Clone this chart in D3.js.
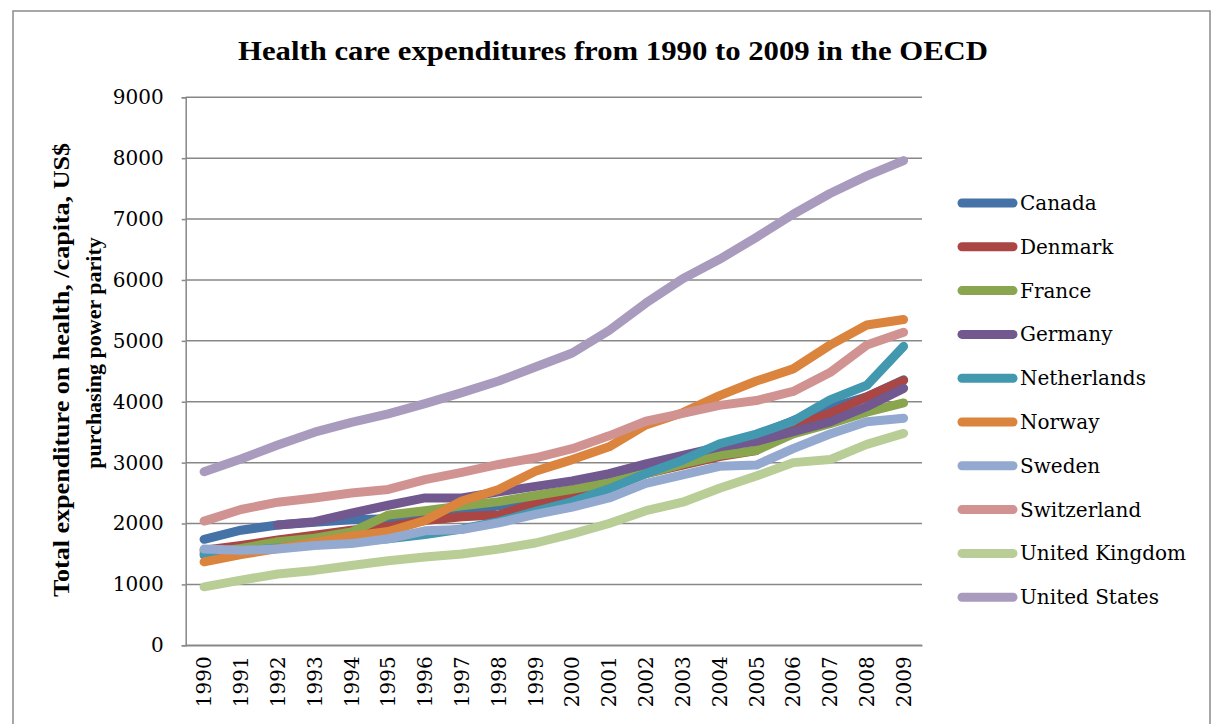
<!DOCTYPE html>
<html>
<head>
<meta charset="utf-8">
<script src="https://cdn.jsdelivr.net/npm/d3@7"></script>
<style>
  html, body { margin: 0; padding: 0; background: #ffffff; }
  svg { display: block; }
</style>
</head>
<body>
<svg id="chart" width="1214" height="724"></svg>
<script>
// Health care expenditure per capita (US$ PPP), OECD, 1990–2009
const years = ["1990","1991","1992","1993","1994","1995","1996","1997","1998","1999",
               "2000","2001","2002","2003","2004","2005","2006","2007","2008","2009"];

const canada      = [1740,1890,1975,2020,2060,2080,2110,2180,2290,2400,2520,2710,2850,3000,3160,3450,3690,3900,4080,4360];
const denmark     = [1560,1640,1730,1810,1890,1950,2050,2110,2140,2330,2420,2580,2820,2960,3100,3200,3590,3810,4080,4350];
const france      = [1510,1590,1700,1760,1860,2140,2210,2290,2360,2460,2560,2670,2820,2980,3120,3200,3470,3640,3830,3980];
const germany     = [null,null,1975,2030,2170,2300,2420,2420,2520,2610,2700,2820,2980,3120,3260,3350,3510,3670,3920,4220];
const netherlands = [1480,1540,1600,1660,1700,1750,1820,1910,2030,2200,2360,2570,2820,3040,3310,3470,3680,4030,4270,4910];
const norway      = [1370,1490,1590,1690,1790,1870,2050,2370,2560,2860,3050,3260,3620,3820,4100,4340,4540,4930,5260,5350];
const sweden      = [1580,1560,1580,1640,1670,1750,1880,1900,2010,2150,2270,2420,2660,2800,2940,2960,3230,3470,3670,3730];
const switzerland = [2040,2230,2350,2420,2500,2560,2720,2840,2970,3080,3230,3440,3680,3810,3940,4020,4170,4480,4930,5140];
const unitedKingdom = [960,1070,1170,1230,1310,1390,1450,1500,1580,1680,1830,2000,2210,2350,2580,2780,3000,3050,3300,3480];
const unitedStates  = [2850,3060,3290,3500,3660,3800,3970,4150,4340,4570,4800,5170,5620,6020,6340,6700,7080,7420,7710,7960];

const countries = ["Canada","Denmark","France","Germany","Netherlands","Norway","Sweden","Switzerland","United Kingdom","United States"];
const colors    = ["#4572A7","#AA4643","#89A54E","#71588F","#4198AF","#DB843D","#93A9CF","#D19392","#B9CD96","#A99BBD"];
const yTicks    = [0,1000,2000,3000,4000,5000,6000,7000,8000,9000];

const seriesValues = [canada, denmark, france, germany, netherlands, norway, sweden, switzerland, unitedKingdom, unitedStates];
const series = countries.map((name, i) => ({
  name,
  color: colors[i],
  values: years.map((yr, j) => ({ year: yr, value: seriesValues[i][j] }))
}));

const titleText = "Health care expenditures from 1990 to 2009 in the OECD";
const yTitleLines = ["Total expenditure on health, /capita, US$", "purchasing power parity"];

const svg = d3.select("#chart");
const serif = "'DejaVu Serif', 'Liberation Serif', serif";
const serifBold = "'Liberation Serif', 'DejaVu Serif', serif";
const gridColor = "#878787";

// outer chart frame
svg.append("rect")
  .attr("x", 13).attr("y", 11)
  .attr("width", 1197).attr("height", 740)
  .attr("fill", "none").attr("stroke", "#8a8a8a").attr("stroke-width", 1.5);

// plot area
const plot = { left: 185.7, right: 922, top: 97.3, bottom: 645.3 };

const x = d3.scaleBand().domain(years).range([plot.left, plot.right]).padding(0);
const y = d3.scaleLinear().domain([0, 9000]).range([plot.bottom, plot.top]);

// horizontal gridlines
svg.append("g")
  .selectAll("line")
  .data(yTicks)
  .join("line")
  .attr("x1", plot.left).attr("x2", plot.right)
  .attr("y1", d => y(d)).attr("y2", d => y(d))
  .attr("stroke", gridColor).attr("stroke-width", 1.5);

// value axis
const yAxis = svg.append("g")
  .attr("transform", `translate(${plot.left},0)`)
  .call(d3.axisLeft(y).tickValues(yTicks).tickSize(4).tickPadding(18).tickFormat(d3.format("d")));
yAxis.select(".domain").attr("stroke", gridColor).attr("stroke-width", 1.5);
yAxis.selectAll(".tick line").attr("stroke", gridColor).attr("stroke-width", 1.5);
yAxis.selectAll(".tick text")
  .attr("font-family", serif).attr("font-size", 20).attr("fill", "#000");

// category axis
const xAxis = svg.append("g")
  .attr("transform", `translate(0,${plot.bottom})`)
  .call(d3.axisBottom(x).tickSize(0).tickPadding(0));
xAxis.select(".domain").attr("stroke", gridColor).attr("stroke-width", 1.5);
xAxis.selectAll(".tick text")
  .attr("font-family", serif).attr("font-size", 20).attr("fill", "#000")
  .attr("text-anchor", "end")
  .attr("transform", "rotate(-90)")
  .attr("x", -11).attr("y", 0).attr("dy", "0.36em");

// series lines
const line = d3.line()
  .defined(d => d.value != null)
  .x(d => x(d.year) + x.bandwidth() / 2)
  .y(d => y(d.value));

svg.append("g")
  .selectAll("path")
  .data(series)
  .join("path")
  .attr("d", d => line(d.values))
  .attr("fill", "none")
  .attr("stroke", d => d.color)
  .attr("stroke-width", 9)
  .attr("stroke-linecap", "round")
  .attr("stroke-linejoin", "round");

// title
svg.append("text")
  .attr("x", 613).attr("y", 60)
  .attr("text-anchor", "middle")
  .attr("font-family", serifBold).attr("font-weight", "bold").attr("font-size", 27)
  .attr("textLength", 750).attr("lengthAdjust", "spacingAndGlyphs")
  .text(titleText);

// value axis title (two lines, rotated)
const yTitle = svg.append("g")
  .attr("font-family", serifBold).attr("font-weight", "bold").attr("fill", "#000");
yTitle.append("text")
  .attr("transform", "translate(69,370) rotate(-90)")
  .attr("text-anchor", "middle")
  .attr("font-size", 23)
  .attr("textLength", 454).attr("lengthAdjust", "spacingAndGlyphs")
  .text(yTitleLines[0]);
yTitle.append("text")
  .attr("transform", "translate(101,353) rotate(-90)")
  .attr("text-anchor", "middle")
  .attr("font-size", 22)
  .text(yTitleLines[1]);

// legend
const legend = svg.append("g")
  .selectAll("g")
  .data(series)
  .join("g")
  .attr("transform", (d, i) => `translate(0,${203 + i * 43.8})`);
legend.append("line")
  .attr("x1", 962).attr("x2", 1013)
  .attr("y1", 0).attr("y2", 0)
  .attr("stroke", d => d.color).attr("stroke-width", 9).attr("stroke-linecap", "round");
legend.append("text")
  .attr("x", 1020).attr("y", 0).attr("dy", "0.35em")
  .attr("font-family", serif).attr("font-size", 20).attr("fill", "#000")
  .text(d => d.name);
</script>
</body>
</html>
